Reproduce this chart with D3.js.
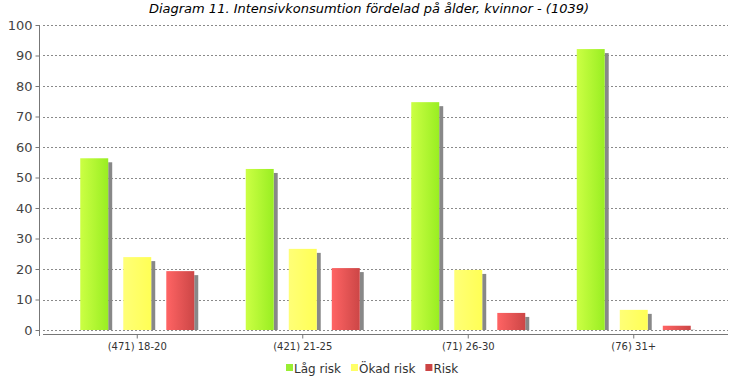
<!DOCTYPE html>
<html><head><meta charset="utf-8">
<script src="https://cdn.jsdelivr.net/npm/d3@7"></script>
<style>body{margin:0;background:#fff}svg{display:block}text{font-family:"DejaVu Sans",sans-serif}</style>
</head><body><svg id="c" width="740" height="380"></svg>
<script>
const title = "Diagram 11. Intensivkonsumtion fördelad på ålder, kvinnor - (1039)";
const categories = ["(471) 18-20", "(421) 21-25", "(71) 26-30", "(76) 31+"];
const seriesNames = ["Låg risk", "Ökad risk", "Risk"];
const lagRisk = [56.3, 52.8, 74.7, 92.1];
const okadRisk = [23.9, 26.6, 19.7, 6.6];
const risk = [19.3, 20.3, 5.6, 1.4];
const yTicks = [0, 10, 20, 30, 40, 50, 60, 70, 80, 90, 100];

const series = [lagRisk, okadRisk, risk];
const gradStops = [["#ccff44", "#99ee22"], ["#ffff77", "#ffff55"], ["#ff6464", "#cc4646"]];
const legendColors = ["#99ee33", "#ffff66", "#cc4444"];

const svg = d3.select("#c");
const y = d3.scaleLinear().domain([0, 100]).range([330, 25]);
const x = d3.scaleBand().domain(categories).range([54.5, 716.5]);
const xs = d3.scaleBand().domain(d3.range(3)).range([0, 114]).paddingInner(0.35);

const defs = svg.append("defs");
gradStops.forEach((g, i) => {
  const lg = defs.append("linearGradient").attr("id", "g" + i).attr("x1", 0).attr("x2", 1).attr("y1", 0).attr("y2", 0);
  lg.append("stop").attr("offset", 0).attr("stop-color", g[0]);
  lg.append("stop").attr("offset", 1).attr("stop-color", g[1]);
});

// title
svg.append("text").attr("x", 369).attr("y", 13).attr("text-anchor", "middle")
  .attr("font-size", 13).attr("font-style", "italic").attr("fill", "#000").text(title);

// grid
svg.append("g").selectAll("line").data(yTicks).join("line")
  .attr("x1", 43).attr("x2", 728).attr("y1", d => Math.round(y(d)) + 0.5).attr("y2", d => Math.round(y(d)) + 0.5)
  .attr("stroke", "#8a8a8a").attr("stroke-dasharray", "2,2").attr("stroke-width", 1);

// y axis
const ya = svg.append("g").attr("transform", "translate(39.5,0)")
  .call(d3.axisLeft(y).tickValues(yTicks).tickSize(4).tickPadding(3).tickSizeOuter(0));
ya.select(".domain").attr("stroke", "#777").attr("d", "M0,25V336");
ya.selectAll(".tick line").attr("stroke", "#777");
ya.selectAll(".tick text").attr("font-size", 13).attr("fill", "#444").attr("font-family", "DejaVu Sans");

// x axis
const xa = svg.append("g").attr("transform", "translate(0,334.5)")
  .call(d3.axisBottom(x).tickSize(4).tickPadding(4).tickSizeOuter(0));
xa.select(".domain").attr("stroke", "#777").attr("d", "M43,0H728");
xa.selectAll(".tick line").attr("stroke", "#777");
xa.selectAll(".tick text").attr("font-size", 10).attr("fill", "#333").attr("font-family", "DejaVu Sans");

// bars
const gx = c => x(c) + x.bandwidth() / 2 - 57;
series.forEach((vals, si) => {
  const g = svg.append("g");
  g.selectAll("rect.s").data(categories).join("rect").attr("class", "s")
    .attr("x", c => gx(c) + xs(si) + xs.bandwidth())
    .attr("y", (c, i) => Math.min(y(vals[i]) + 4, y(0)))
    .attr("width", 4)
    .attr("height", (c, i) => Math.max(0, y(0) - y(vals[i]) - 4))
    .attr("fill", "#888");
  g.selectAll("rect.b").data(categories).join("rect").attr("class", "b")
    .attr("x", c => gx(c) + xs(si))
    .attr("y", (c, i) => y(vals[i]))
    .attr("width", xs.bandwidth())
    .attr("height", (c, i) => y(0) - y(vals[i]))
    .attr("fill", "url(#g" + si + ")");
});

// legend
const leg = svg.append("g");
let lx = 286;
seriesNames.forEach((n, i) => {
  leg.append("rect").attr("x", lx).attr("y", 364).attr("width", 7).attr("height", 7).attr("fill", legendColors[i]);
  const t = leg.append("text").attr("x", lx + 8).attr("y", 372.5).attr("font-size", 12).attr("fill", "#333").text(n);
  lx += 8 + t.node().getComputedTextLength() + 10;
});
</script></body></html>
